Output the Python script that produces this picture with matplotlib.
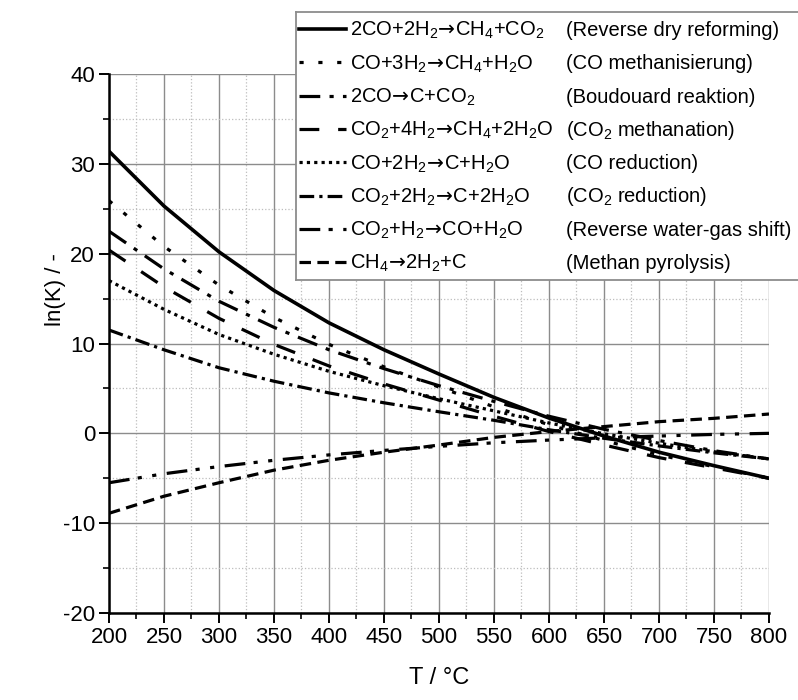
import numpy as np
import matplotlib
matplotlib.use('Agg')
import matplotlib.pyplot as plt
from matplotlib.ticker import MultipleLocator

plt.rcParams['font.family'] = ['Liberation Sans', 'DejaVu Sans']
plt.rcParams['mathtext.fontset'] = 'custom'
plt.rcParams['mathtext.rm'] = 'Liberation Sans'
plt.rcParams['mathtext.it'] = 'Liberation Sans:italic'
plt.rcParams['mathtext.bf'] = 'Liberation Sans:bold'
plt.rcParams['mathtext.sf'] = 'DejaVu Sans'
plt.rcParams['axes.unicode_minus'] = False

# temperature in degC, ln(K) every 50 degC
temp = [200, 250, 300, 350, 400, 450, 500, 550, 600, 650, 700, 750, 800]

revDryReforming = [31.4, 25.3, 20.2, 15.9, 12.3, 9.3, 6.6, 4.0, 1.7, -0.3, -2.1, -3.6, -5.0]
coMethanation = [25.9, 20.8, 16.5, 12.9, 9.9, 7.4, 5.15, 2.95, 0.95, -0.8, -2.4, -3.72, -5.0]
boudouard = [22.5, 18.3, 14.7, 11.8, 9.3, 7.2, 5.3, 3.55, 1.9, 0.45, -0.8, -1.93, -2.85]
co2Methanation = [20.4, 16.3, 12.8, 9.9, 7.5, 5.5, 3.7, 1.9, 0.2, -1.3, -2.7, -3.84, -5.0]
coReduction = [17.0, 13.8, 11.0, 8.8, 6.9, 5.3, 3.85, 2.5, 1.15, -0.05, -1.1, -2.05, -2.85]
co2Reduction = [11.5, 9.3, 7.3, 5.8, 4.5, 3.4, 2.4, 1.45, 0.4, -0.55, -1.4, -2.17, -2.85]
revWaterGasShift = [-5.5, -4.5, -3.7, -3.0, -2.4, -1.9, -1.45, -1.05, -0.75, -0.5, -0.3, -0.12, 0.0]
methanPyrolysis = [-8.9, -7.0, -5.5, -4.1, -3.0, -2.1, -1.3, -0.45, 0.2, 0.75, 1.3, 1.67, 2.15]

arrow = r'$\!\mathsf{\rightarrow}\!$'
formulas = ['2CO+2H$_2$' + arrow + 'CH$_4$+CO$_2$',
            'CO+3H$_2$' + arrow + 'CH$_4$+H$_2$O',
            '2CO' + arrow + 'C+CO$_2$',
            'CO$_2$+4H$_2$' + arrow + 'CH$_4$+2H$_2$O',
            'CO+2H$_2$' + arrow + 'C+H$_2$O',
            'CO$_2$+2H$_2$' + arrow + 'C+2H$_2$O',
            'CO$_2$+H$_2$' + arrow + 'CO+H$_2$O',
            'CH$_4$' + arrow + '2H$_2$+C']
names = ['(Reverse dry reforming)',
         '(CO methanisierung)',
         '(Boudouard reaktion)',
         '(CO$_2$ methanation)',
         '(CO reduction)',
         '(CO$_2$ reduction)',
         '(Reverse water-gas shift)',
         '(Methan pyrolysis)']

series = [revDryReforming, coMethanation, boudouard, co2Methanation,
          coReduction, co2Reduction, revWaterGasShift, methanPyrolysis]
styles = ['-',
          (0, (1.3, 4.6)),
          (0, (6.5, 2.9, 1.3, 2.9)),
          (0, (6.2, 5.9)),
          (0, (1.0, 1.3)),
          (0, (4.6, 1.6, 1.0, 1.6)),
          (0, (6.5, 2.6, 1.3, 3.3, 1.3, 3.3)),
          (0, (3.6, 2.0))]
widths = [2.6, 2.3, 2.3, 2.3, 2.3, 2.3, 2.3, 2.3]

fig = plt.figure(figsize=(7.98, 7.0), dpi=100)
ax = fig.add_axes([109/798, 87/700, 660/798, 539/700])

for vals, ls, lw in zip(series, styles, widths):
    ax.plot(temp, vals, color='black', linestyle=ls, linewidth=lw)

ax.set_xlim(200, 800)
ax.set_ylim(-20, 40)
ax.xaxis.set_major_locator(MultipleLocator(50))
ax.xaxis.set_minor_locator(MultipleLocator(25))
ax.yaxis.set_major_locator(MultipleLocator(10))
ax.yaxis.set_minor_locator(MultipleLocator(5))
ax.grid(which='major', color='#8c8c8c', linewidth=1.0)
ax.grid(which='minor', color='#bdbdbd', linewidth=0.9, linestyle=':')
ax.set_axisbelow(True)

for s in ['top', 'right']:
    ax.spines[s].set_visible(False)
for s in ['left', 'bottom']:
    ax.spines[s].set_linewidth(1.8)

ax.tick_params(which='major', direction='out', length=7, width=1.4, pad=3)
ax.tick_params(which='minor', direction='out', length=4, width=1.2)
ax.tick_params(axis='y', labelsize=16)
ax.tick_params(axis='x', labelsize=16)
for lab in ax.get_xticklabels():
    lab.set_family(['Liberation Sans Narrow', 'Liberation Sans'])

ax.set_ylabel('ln(K) / -', fontsize=16)
ax.yaxis.set_label_coords(-0.065, 0.6)
ax.set_xlabel('T / °C', fontsize=17, family=['Liberation Sans Narrow', 'Liberation Sans'])
ax.xaxis.set_label_coords(0.5, -0.1)

# legend box drawn as a small axes in pixel units
lax = fig.add_axes([296/798, 420/700, 530/798, 268/700])
lax.set_xlim(0, 530)
lax.set_ylim(268, 0)
lax.set_xticks([])
lax.set_yticks([])
for s in lax.spines.values():
    s.set_color('#8c8c8c')
    s.set_linewidth(1.3)

for i in range(len(formulas)):
    row = 17 + 33.3 * i
    lax.plot([3, 50], [row, row], color='black', linestyle=styles[i], linewidth=widths[i])
    lax.text(54, row + 7, formulas[i], fontsize=14.5, va='baseline', ha='left')
    lax.text(270, row + 7, names[i], fontsize=14.5, va='baseline', ha='left')

fig.savefig('out.png', dpi=100)
